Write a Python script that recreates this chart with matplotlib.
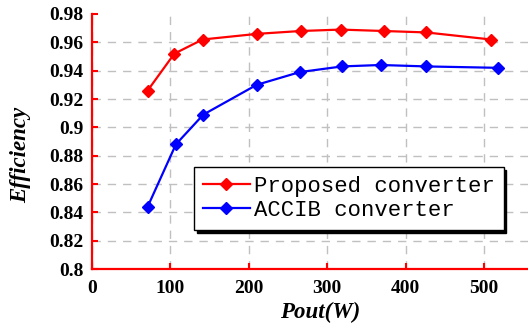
import matplotlib
matplotlib.use("Agg")
from matplotlib import pyplot as plt

# data
pout_prop = [71, 105, 141, 211, 266, 317, 372, 426, 509]
eff_prop = [0.926, 0.952, 0.962, 0.966, 0.968, 0.969, 0.968, 0.967, 0.962]
pout_accib = [71, 107, 142, 210, 265, 319, 368, 426, 518]
eff_accib = [0.844, 0.888, 0.909, 0.930, 0.939, 0.943, 0.944, 0.943, 0.942]

xticks = [0, 100, 200, 300, 400, 500]
yticks = [0.8, 0.82, 0.84, 0.86, 0.88, 0.9, 0.92, 0.94, 0.96, 0.98]
ylabels = ["0.8", "0.82", "0.84", "0.86", "0.88", "0.9", "0.92", "0.94", "0.96", "0.98"]

plt.rcParams["font.family"] = ["Liberation Serif", "DejaVu Serif"]

fig = plt.figure(figsize=(5.28, 3.29), dpi=100)
ax = fig.add_axes([92 / 528, 1 - 269 / 329, 1 - 92 / 528, (269 - 14) / 329])

ax.plot(pout_prop, eff_prop, "-D", color="#ff0000", lw=1.6, ms=6.5,
        label="Proposed converter", zorder=3)
ax.plot(pout_accib, eff_accib, "-D", color="#0000ff", lw=1.6, ms=6.5,
        label="ACCIB converter", zorder=3)

ax.set_xlim(0, 556)
ax.set_ylim(0.8, 0.98)
ax.set_xticks(xticks)
ax.set_yticks(yticks)
ax.set_yticklabels(ylabels)

ax.grid(True, ls=(0, (6, 5)), color="#c0c0c0", lw=1.0)
ax.get_ygridlines()[-1].set_visible(False)
ax.set_axisbelow(True)

for s in ["top", "right"]:
    ax.spines[s].set_visible(False)
for s in ["left", "bottom"]:
    ax.spines[s].set_color("#ff0000")
    ax.spines[s].set_linewidth(1.6)

ax.tick_params(direction="in", color="#ff0000", length=4.5, width=1.5,
               labelsize=14)
ax.tick_params(axis="x", pad=8)
ax.tick_params(axis="y", pad=6)
for t in ax.get_xticklabels() + ax.get_yticklabels():
    t.set_fontweight("bold")

ax.set_xlabel("Pout(W)", fontsize=16.5, fontweight="bold", style="italic")
ax.set_ylabel("Efficiency", fontsize=16.5, fontweight="bold", style="italic")
ax.xaxis.set_label_coords(0.523, -0.13)
ax.yaxis.set_label_coords(-0.14, 0.447)

leg = ax.legend(loc="upper left", bbox_to_anchor=(0.234, 0.4), borderaxespad=0,
                prop={"family": "Liberation Mono", "size": 16},
                fancybox=False, edgecolor="black", framealpha=1,
                shadow={"color": "black", "alpha": 1},
                handlelength=2.1, handletextpad=0.2, labelspacing=0.15,
                borderpad=0.4)
leg.get_frame().set_linewidth(1.0)

fig.savefig("out.png", dpi=100)
